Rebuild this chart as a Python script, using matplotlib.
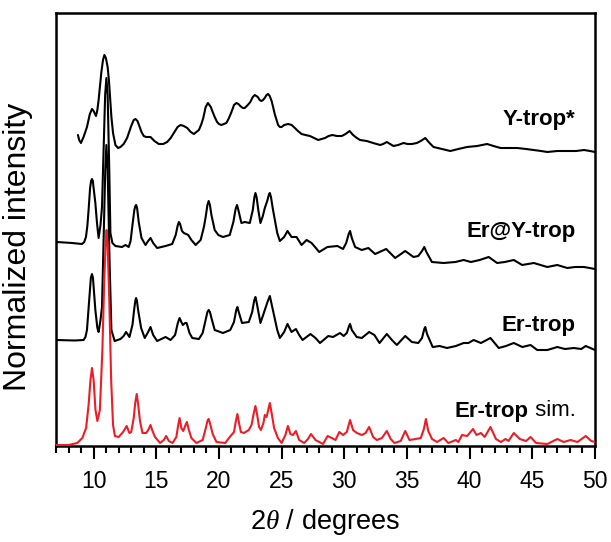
import matplotlib
matplotlib.use('Agg')
import matplotlib.pyplot as plt
from matplotlib.ticker import MultipleLocator

plt.rcParams['font.family'] = ['Liberation Sans', 'DejaVu Sans']
plt.rcParams['mathtext.fontset'] = 'custom'
plt.rcParams['mathtext.rm'] = 'Liberation Sans'
plt.rcParams['mathtext.it'] = 'Liberation Serif:italic'

# ---------------- data (2theta, intensity above own baseline, a.u.) ----------------
sim_pts = [(7.0, -2), (8.0, -2), (8.7, 0), (9.1, 5), (9.4, 15), (9.6, 38), (9.75, 63), (9.87, 75),
           (10.0, 63), (10.15, 33), (10.3, 22), (10.5, 33), (10.7, 93), (10.85, 163), (10.97, 203),
           (11.04, 213), (11.12, 198), (11.25, 143), (11.4, 63), (11.55, 18), (11.7, 7), (12.0, 6),
           (12.35, 11), (12.64, 17), (12.85, 10), (13.0, 11), (13.2, 25), (13.32, 40), (13.44, 49),
           (13.56, 38), (13.7, 22), (13.9, 10), (14.2, 10), (14.4, 14), (14.54, 18), (14.7, 12),
           (14.9, 6), (15.3, 0), (15.6, 3), (15.79, 7), (16.0, 2), (16.3, 0), (16.6, 6), (16.75, 18),
           (16.86, 25), (17.0, 15), (17.15, 12), (17.3, 17), (17.44, 21), (17.6, 13), (17.8, 5),
           (18.2, 0), (18.7, 3), (18.95, 15), (19.08, 22), (19.18, 24), (19.3, 19), (19.5, 9),
           (19.8, 1), (20.5, 0), (20.86, 6), (21.2, 11), (21.35, 22), (21.47, 29), (21.6, 20),
           (21.75, 11), (22.0, 10), (22.38, 13), (22.6, 18), (22.78, 30), (22.91, 37), (23.05, 28),
           (23.2, 16), (23.35, 13), (23.55, 20), (23.66, 28), (23.8, 26), (23.95, 34), (24.06, 40),
           (24.2, 30), (24.4, 15), (24.7, 5), (25.0, 0), (25.3, 8), (25.5, 17), (25.7, 9), (25.9, 8),
           (26.14, 12), (26.4, 3), (26.8, 0), (27.1, 4), (27.34, 9), (27.7, 3), (28.3, -1),
           (28.67, 7), (29.0, 5), (29.3, 3), (29.6, 11), (29.9, 8), (30.2, 11), (30.46, 23),
           (30.7, 13), (31.0, 10), (31.4, 8), (31.7, 10), (31.98, 16), (32.3, 6), (32.6, 3),
           (33.0, 5), (33.39, 12), (33.7, 4), (34.0, 0), (34.5, 2), (34.86, 12), (35.2, 3),
           (35.7, 4), (36.1, 5), (36.35, 14), (36.51, 24), (36.7, 12), (37.0, 4), (37.4, 1),
           (37.92, 5), (38.3, 0), (38.9, 3), (39.1, 1), (39.39, 8), (39.8, 7), (40.27, 14),
           (40.55, 8), (40.9, 10), (41.2, 6), (41.66, 16), (42.1, 4), (42.5, 1), (42.86, 4),
           (43.1, 2), (43.52, 10), (44.0, 4), (44.5, 2), (44.86, 6), (45.3, 0), (46.2, -1),
           (47.0, 4), (47.5, 1), (48.06, 3), (48.6, 1), (49.26, 7), (49.7, 2), (50.0, 1)]

ertrop_pts = [(7.0, 0), (8.5, -0.5), (9.2, 0), (9.35, 3), (9.47, 10), (9.65, 40), (9.78, 62),
              (9.87, 66), (9.95, 62), (10.05, 45), (10.14, 30), (10.3, 12), (10.4, 8), (10.55, 20),
              (10.67, 33), (10.8, 100), (10.93, 170), (11.02, 195), (11.12, 170), (11.27, 80),
              (11.42, 10), (11.68, -1), (12.14, 1), (12.4, 4), (12.59, 8), (12.86, 3), (13.1, 15),
              (13.25, 32), (13.34, 40), (13.39, 42), (13.46, 39), (13.55, 30), (13.79, 12),
              (14.08, 2), (14.35, 8), (14.54, 13), (14.75, 5), (15.07, -1), (15.74, 3), (16.14, 0),
              (16.5, 5), (16.72, 17), (16.86, 22), (17.0, 18), (17.12, 15), (17.3, 17), (17.42, 17),
              (17.65, 7), (17.87, 2), (18.4, 1), (18.7, 7), (18.94, 20), (19.08, 28), (19.18, 30),
              (19.28, 28), (19.4, 22), (19.66, 10), (20.32, 7), (20.9, 10), (21.2, 18), (21.38, 30),
              (21.47, 33), (21.58, 28), (21.84, 17), (22.38, 18), (22.65, 28), (22.82, 40),
              (22.91, 43), (23.0, 38), (23.31, 17), (23.5, 24), (23.66, 30), (23.9, 39), (24.06, 44),
              (24.2, 36), (24.4, 25), (24.65, 10), (24.86, 2), (25.2, 8), (25.47, 16), (25.79, 8),
              (26.14, 11), (26.4, 5), (26.67, 0), (27.3, 6), (27.7, 2), (28.06, -3), (28.72, 4),
              (29.1, 3), (29.66, 7), (29.95, 4), (30.2, 7), (30.38, 14), (30.46, 16), (30.6, 10),
              (30.99, 3), (31.4, 2), (31.98, 8), (32.4, 5), (32.81, -3), (33.39, 6), (33.8, 0),
              (34.19, -5), (34.86, 4), (35.39, -2), (35.9, -3), (36.2, 2), (36.38, 11), (36.46, 13),
              (36.6, 6), (37.05, -7), (37.6, -6), (38.19, -8), (38.9, -6), (39.52, -3), (39.9, -3),
              (40.32, 0), (40.9, -3), (41.66, 2), (42.32, -8), (42.9, -6), (43.52, -3), (44.2, -7),
              (44.86, -5), (45.39, -10), (46.2, -10), (46.99, -7), (47.6, -9), (48.3, -8),
              (48.9, -9), (49.26, -6), (50.0, -10)]

eryt_pts = [(7.07, 1), (8.27, 0), (9.07, -1), (9.25, 1), (9.39, 6), (9.5, 17), (9.6, 33), (9.72, 55),
            (9.8, 62), (9.87, 64), (9.94, 62), (10.0, 55), (10.14, 40), (10.27, 20), (10.4, 5),
            (10.55, 18), (10.67, 36), (10.8, 93), (10.92, 148), (11.02, 165), (11.12, 148),
            (11.25, 73), (11.34, 10), (11.5, 0), (11.74, -3), (12.27, -4), (12.54, -2), (12.8, -4),
            (12.95, 2), (13.1, 18), (13.25, 33), (13.33, 37), (13.39, 38), (13.47, 35), (13.6, 21),
            (13.82, 5), (14.14, -2), (14.35, 2), (14.54, 5), (14.75, 0), (15.07, -5), (15.74, -3),
            (16.27, -1), (16.55, 8), (16.7, 17), (16.8, 21), (16.9, 19), (17.05, 12), (17.2, 10),
            (17.55, 8), (17.8, 3), (18.14, -2), (18.54, 3), (18.8, 16), (18.94, 26), (19.08, 38),
            (19.18, 42), (19.28, 38), (19.4, 28), (19.66, 13), (19.95, 8), (20.32, 6), (20.86, 8),
            (21.15, 21), (21.33, 34), (21.44, 38), (21.55, 33), (21.79, 20), (22.06, 21),
            (22.46, 20), (22.7, 33), (22.83, 46), (22.91, 50), (23.0, 46), (23.15, 32), (23.31, 20),
            (23.5, 27), (23.66, 35), (23.85, 42), (24.0, 49), (24.06, 50), (24.15, 46), (24.3, 34),
            (24.46, 23), (24.65, 10), (24.86, 2), (25.2, 6), (25.47, 12), (25.79, 6), (26.19, 6),
            (26.59, -2), (26.99, 3), (27.39, 0), (28.0, -9), (28.65, -4), (29.45, -3), (29.9, -6),
            (30.15, 0), (30.35, 9), (30.46, 12), (30.6, 5), (30.86, -4), (31.39, -7), (31.92, -5),
            (32.46, -11), (33.34, -6), (34.06, -15), (34.86, -8), (35.52, -14), (35.9, -13),
            (36.2, -8), (36.38, -4), (36.55, -9), (36.99, -19), (37.92, -20), (38.86, -19),
            (39.52, -17), (40.1, -19), (40.8, -17), (41.52, -14), (42.19, -20), (42.8, -19),
            (43.52, -17), (44.19, -22), (45.12, -20), (46.19, -24), (46.99, -22), (47.79, -25),
            (48.4, -24), (49.12, -24), (50.0, -26)]

ytrop_pts = [(8.75, 15), (8.85, 10), (8.99, 7), (9.2, 13), (9.47, 23), (9.7, 36), (9.87, 41),
             (10.0, 39), (10.19, 34), (10.3, 40), (10.4, 50), (10.52, 65), (10.62, 78), (10.75, 90),
             (10.86, 95), (10.98, 92), (11.12, 83), (11.22, 70), (11.3, 55), (11.42, 33), (11.55, 17),
             (11.74, 5), (11.95, 2), (12.14, 3), (12.4, 6), (12.67, 12), (13.0, 24), (13.2, 30),
             (13.34, 31), (13.5, 29), (13.65, 24), (13.82, 18), (14.0, 14), (14.19, 13), (14.54, 13),
             (14.85, 9), (15.2, 6), (15.55, 6), (15.87, 8), (16.15, 12), (16.4, 17), (16.7, 23),
             (16.94, 25), (17.2, 24), (17.47, 22), (17.75, 18), (18.0, 16), (18.2, 18), (18.4, 20),
             (18.6, 26), (18.75, 32), (18.94, 43), (19.12, 47), (19.35, 43), (19.5, 38), (19.66, 33),
             (19.85, 28), (20.0, 26), (20.19, 25), (20.4, 26), (20.59, 27), (20.8, 32), (21.0, 38),
             (21.2, 45), (21.39, 47), (21.55, 46), (21.7, 44), (21.9, 42), (22.06, 42), (22.3, 45),
             (22.5, 48), (22.7, 53), (22.86, 55), (23.1, 53), (23.25, 50), (23.39, 49), (23.52, 50),
             (23.65, 52), (23.8, 55), (23.92, 56), (24.05, 54), (24.2, 49), (24.32, 43), (24.45, 36),
             (24.6, 30), (24.72, 25), (24.86, 23), (25.0, 23), (25.2, 25), (25.52, 26), (25.8, 25),
             (26.06, 22), (26.3, 19), (26.59, 16), (26.9, 15), (27.26, 14), (27.6, 12), (27.92, 10),
             (28.2, 11), (28.46, 12), (28.75, 14), (29.05, 15), (29.4, 14), (29.8, 14), (30.1, 16),
             (30.42, 19), (30.7, 15), (31.0, 12), (31.26, 10), (31.79, 9), (32.3, 7), (32.86, 5),
             (33.1, 6), (33.39, 8), (33.65, 6), (33.92, 4), (34.3, 5), (34.72, 7), (35.05, 6),
             (35.39, 6), (35.79, 7), (36.1, 9), (36.46, 12), (36.8, 7), (37.12, 3), (37.8, 1),
             (38.46, -1), (39.1, 1), (39.79, 3), (40.6, 4), (41.39, 6), (41.9, 4), (42.46, 2),
             (43.1, 2), (43.79, 2), (44.5, 1), (45.12, 0), (45.7, -1), (46.19, -2), (47.0, -1),
             (47.79, -1), (48.5, -1), (49.12, 0), (49.6, -1), (50.0, -2)]

series_names = ['Er-trop sim.', 'Er-trop', 'Er@Y-trop', 'Y-trop*']
series_pts = [sim_pts, ertrop_pts, eryt_pts, ytrop_pts]
offsets = [3, 106, 203, 296]
colors = ['#ee1c24', 'black', 'black', 'black']
label_y = [35, 120, 214, 327]

x_ticks = [10, 15, 20, 25, 30, 35, 40, 45, 50]

# ---------------- figure ----------------
fig = plt.figure(figsize=(6.11, 5.42), dpi=100)
ax = fig.add_axes([56 / 611, 96 / 542, 539 / 611, 433 / 542])

order = [3, 2, 1, 0]
for i in order:
    xs = [p[0] for p in series_pts[i]]
    ys = [p[1] + offsets[i] for p in series_pts[i]]
    ax.plot(xs, ys, color=colors[i], lw=1.5, solid_joinstyle='round',
            solid_capstyle='round', zorder=3 if i == 0 else 2)

ax.set_xlim(7, 50)
ax.set_ylim(0, 433)
ax.set_xticks(x_ticks)
ax.set_xticklabels([str(t) for t in x_ticks])
ax.xaxis.set_minor_locator(MultipleLocator(1))
ax.set_yticks([])
ax.tick_params(axis='x', which='major', direction='out', length=9.5, width=1.5,
               labelsize=16.5, pad=8)
ax.tick_params(axis='x', which='minor', direction='out', length=5, width=1.5)
for s in ax.spines.values():
    s.set_linewidth(1.8)

ax.set_xlabel(r'2$\theta$ / degrees', fontsize=19.5, labelpad=10)
ax.set_ylabel('Normalized intensity', fontsize=23)
ax.yaxis.set_label_coords(-0.042, 0.46)

lx = 48.46
fs = 16
ax.text(lx, label_y[3], 'Y-trop*', ha='right', va='center', fontsize=fs, fontweight='bold')
ax.text(lx, label_y[2], 'Er@Y-trop', ha='right', va='center', fontsize=fs, fontweight='bold')
ax.text(lx, label_y[1], 'Er-trop', ha='right', va='center', fontsize=fs, fontweight='bold')
t_sim = ax.text(lx, label_y[0], ' sim.', ha='right', va='center', fontsize=fs)
ax.annotate('Er-trop', xy=(0, 0.5), xycoords=t_sim, ha='right', va='center',
            fontsize=fs, fontweight='bold')

fig.savefig('out.png', dpi=100)
